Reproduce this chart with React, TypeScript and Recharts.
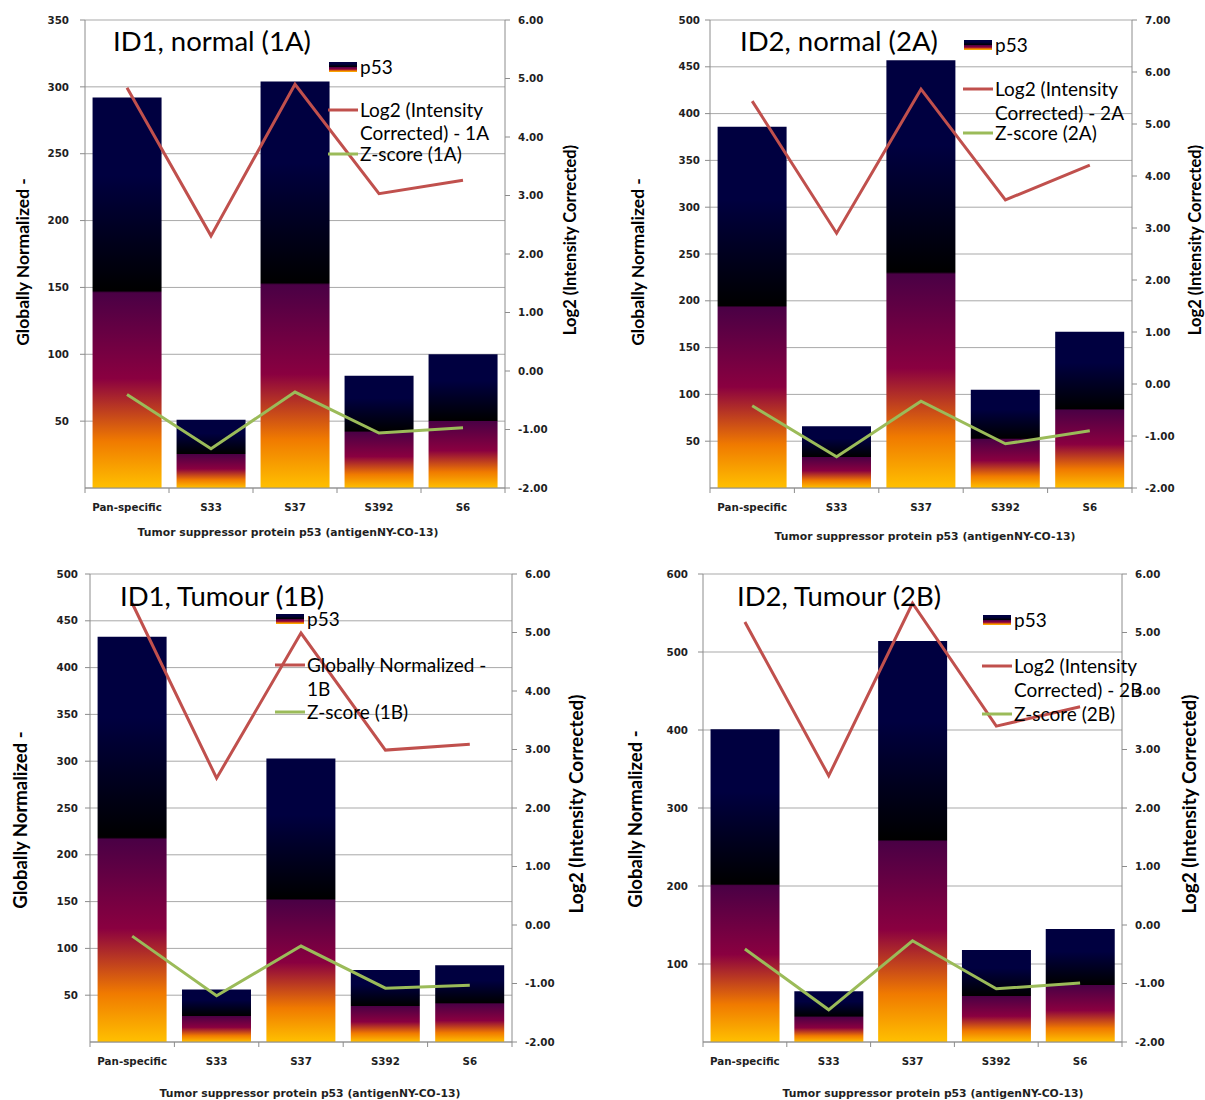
import React from 'react';
import { ComposedChart, Bar, Line, XAxis, YAxis, CartesianGrid, Legend, Label } from 'recharts';

// ---------- data ----------
const categories = ['Pan-specific', 'S33', 'S37', 'S392', 'S6'];

const p53_1A = [292, 51, 304, 84, 100];
const log2_1A = [4.84, 2.31, 4.9, 3.03, 3.26];
const zscore_1A = [-0.4, -1.33, -0.36, -1.06, -0.97];

const p53_2A = [386, 66, 457, 105, 167];
const log2_2A = [5.44, 2.9, 5.67, 3.54, 4.21];
const zscore_2A = [-0.42, -1.4, -0.33, -1.15, -0.9];

const p53_1B = [433, 56, 303, 77, 82];
const log2_1B = [5.5, 2.51, 4.99, 2.99, 3.09];
const zscore_1B = [-0.19, -1.21, -0.36, -1.08, -1.03];

const p53_2B = [401, 65, 514, 118, 145];
const log2_2B = [5.18, 2.55, 5.5, 3.4, 3.73];
const zscore_2B = [-0.41, -1.45, -0.27, -1.09, -0.99];

const leftTicks_1A = [50, 100, 150, 200, 250, 300, 350];
const leftTicks_2A = [50, 100, 150, 200, 250, 300, 350, 400, 450, 500];
const leftTicks_1B = [50, 100, 150, 200, 250, 300, 350, 400, 450, 500];
const leftTicks_2B = [100, 200, 300, 400, 500, 600];
const rightTicks_8 = [-2, -1, 0, 1, 2, 3, 4, 5, 6];
const rightTicks_9 = [-2, -1, 0, 1, 2, 3, 4, 5, 6, 7];

const xTitle = 'Tumor suppressor protein p53 (antigenNY-CO-13)';
const leftTitle = 'Globally Normalized -';
const rightTitle = 'Log2 (Intensity Corrected)';

// ---------- styles ----------
const RED = '#c0504d';
const GREEN = '#9bbb59';
const AXIS = '#8c8c8c';
const GRID = '#a9a9a9';
const tickStyle = { fontFamily: 'DejaVu Sans', fontWeight: 700, fontSize: 10.3, fill: '#1f1f1f' };
const calibri = 'Lato, "Open Sans", sans-serif';
const X_TICK_SIZE = 5;
const X_TICK_MARGIN = 11;

type PanelProps = {
  id: string;
  left: number; top: number; width: number; height: number;
  leftW: number; rightW: number;
  bars: number[]; log2: number[]; z: number[];
  leftMax: number; leftTicks: number[];
  rightMax: number; rightTicks: number[];
  leftTickMargin: number;
  title: string; titleX: number; titleY: number; titleSize: number;
  yTitleSize: number; leftTitleX: number; leftTitleY: number; rightTitleX: number; rightTitleY: number; rightTitleSize: number;
  xTitleX: number; xTitleY: number;
  legendX: number; legendY: number; legendSize: number;
  legRed: number; legRed2: number; legGreen: number;
  redLines: string[]; greenLabel: string;
};

const GradientStops = () => (
  <>
    <stop offset="0" stopColor="#000040" />
    <stop offset="0.2" stopColor="#000040" />
    <stop offset="0.495" stopColor="#000000" />
    <stop offset="0.5" stopColor="#4a0045" />
    <stop offset="0.72" stopColor="#8a0040" />
    <stop offset="0.88" stopColor="#f07a00" />
    <stop offset="1" stopColor="#ffc000" />
  </>
);

// Category tick: label at the band centre, Excel-style tick marks at the band boundaries
const XTick = (props: any) => {
  const { x, y, payload, index, visibleTicksCount } = props;
  const half = payload && payload.offset ? payload.offset : 0;
  const axisY = y - X_TICK_SIZE - X_TICK_MARGIN;
  const isLast = index === (visibleTicksCount ?? categories.length) - 1;
  return (
    <g>
      <line x1={x - half} x2={x - half} y1={axisY} y2={axisY + 5} stroke={AXIS} />
      {isLast && <line x1={x + half} x2={x + half} y1={axisY} y2={axisY + 5} stroke={AXIS} />}
      <text x={x} y={y} dy="0.71em" textAnchor="middle" style={tickStyle}>
        {payload.value}
      </text>
    </g>
  );
};

const Panel = (p: PanelProps) => {
  const rows = categories.map((c, i) => ({ category: c, p53: p.bars[i], log2: p.log2[i], z: p.z[i] }));
  const gid = `grad-${p.id}`;
  const lgid = `lgrad-${p.id}`;
  const lx = p.legendX - p.left;
  const ly = p.legendY - p.top - 10;
  const textStyle: React.CSSProperties = {
    position: 'absolute', left: 32, fontFamily: calibri, fontSize: p.legendSize, color: '#000',
    lineHeight: '20px', height: 20, whiteSpace: 'nowrap',
  };
  const renderLegend = () => (
    <div style={{ position: 'relative', width: 230, height: 110 }}>
      <svg width={30} height={110} style={{ position: 'absolute', left: 0, top: 0 }}>
        <defs>
          <linearGradient id={lgid} x1="0" y1="0" x2="0" y2="1">
            <GradientStops />
          </linearGradient>
        </defs>
        <rect x={1} y={5} width={28} height={10} fill={`url(#${lgid})`} />
        <line x1={0} x2={30} y1={10 + p.legRed} y2={10 + p.legRed} stroke={RED} strokeWidth={3} />
        <line x1={0} x2={30} y1={10 + p.legGreen} y2={10 + p.legGreen} stroke={GREEN} strokeWidth={3} />
      </svg>
      <div style={{ ...textStyle, top: 0 }}>p53</div>
      <div style={{ ...textStyle, top: p.legRed }}>{p.redLines[0]}</div>
      <div style={{ ...textStyle, top: p.legRed2 }}>{p.redLines[1]}</div>
      <div style={{ ...textStyle, top: p.legGreen }}>{p.greenLabel}</div>
    </div>
  );

  const lTx = p.leftTitleX - p.left;
  const lTy = p.leftTitleY - p.top;
  const rTx = p.rightTitleX - p.left;
  const rTy = p.rightTitleY - p.top;

  return (
    <div style={{ position: 'absolute', left: p.left, top: p.top, width: p.width, height: p.height }}>
      <ComposedChart
        width={p.width}
        height={p.height}
        data={rows}
        margin={{ top: 20, right: 0, bottom: 0, left: 0 }}
        barCategoryGap="9%"
      >
        <defs>
          <linearGradient id={gid} x1="0" y1="0" x2="0" y2="1">
            <GradientStops />
          </linearGradient>
        </defs>
        <CartesianGrid yAxisId="left" vertical={false} stroke={GRID} strokeWidth={1} />
        <XAxis
          dataKey="category"
          height={57}
          tickLine={false}
          axisLine={{ stroke: AXIS }}
          tick={<XTick />}
          tickSize={X_TICK_SIZE}
          tickMargin={X_TICK_MARGIN}
          interval={0}
          label={
            <Label
              content={() => (
                <text
                  x={p.xTitleX - p.left}
                  y={p.xTitleY - p.top}
                  textAnchor="middle"
                  dominantBaseline="central"
                  style={{ ...tickStyle, fontSize: 10.8 }}
                >
                  {xTitle}
                </text>
              )}
            />
          }
        />
        <YAxis
          yAxisId="left"
          orientation="left"
          width={p.leftW}
          domain={[0, p.leftMax]}
          ticks={p.leftTicks}
          interval={0}
          tick={tickStyle}
          tickLine={{ stroke: AXIS }}
          axisLine={{ stroke: AXIS }}
          tickSize={5}
          tickMargin={p.leftTickMargin}
          label={
            <Label
              content={() => (
                <text
                  x={lTx}
                  y={lTy}
                  transform={`rotate(-90 ${lTx} ${lTy})`}
                  textAnchor="middle"
                  dominantBaseline="central"
                  style={{ fontFamily: calibri, fontWeight: 700, fontSize: p.yTitleSize, fill: '#000' }}
                >
                  {leftTitle}
                </text>
              )}
            />
          }
        />
        <YAxis
          yAxisId="right"
          orientation="right"
          width={p.rightW}
          domain={[-2, p.rightMax]}
          ticks={p.rightTicks}
          interval={0}
          tick={tickStyle}
          tickFormatter={(v: number) => v.toFixed(2)}
          tickLine={{ stroke: AXIS }}
          axisLine={{ stroke: AXIS }}
          tickSize={5}
          tickMargin={8}
          label={
            <Label
              content={() => (
                <text
                  x={rTx}
                  y={rTy}
                  transform={`rotate(-90 ${rTx} ${rTy})`}
                  textAnchor="middle"
                  dominantBaseline="central"
                  style={{ fontFamily: calibri, fontWeight: 700, fontSize: p.rightTitleSize, fill: '#000' }}
                >
                  {rightTitle}
                </text>
              )}
            />
          }
        />
        <Bar yAxisId="left" dataKey="p53" fill={`url(#${gid})`} isAnimationActive={false} />
        <Line yAxisId="right" type="linear" dataKey="log2" stroke={RED} strokeWidth={3} dot={false} isAnimationActive={false} />
        <Line yAxisId="right" type="linear" dataKey="z" stroke={GREEN} strokeWidth={3} dot={false} isAnimationActive={false} />
        <Legend
          layout="vertical"
          align="center"
          verticalAlign="middle"
          content={renderLegend}
          wrapperStyle={{ left: lx, top: ly, width: 230, height: 110 }}
        />
      </ComposedChart>
      <div
        style={{
          position: 'absolute',
          left: p.titleX - p.left,
          top: p.titleY - p.top - 18,
          fontFamily: calibri,
          fontSize: p.titleSize,
          lineHeight: '36px',
          color: '#000',
          whiteSpace: 'nowrap',
        }}
      >
        {p.title}
      </div>
    </div>
  );
};

export default function App() {
  return (
    <div style={{ position: 'absolute', left: 0, top: 0, width: 1205, height: 1100, background: '#fff' }}>
      <Panel
        id="1A" left={0} top={0} width={600} height={545} leftW={85} rightW={95}
        bars={p53_1A} log2={log2_1A} z={zscore_1A}
        leftMax={350} leftTicks={leftTicks_1A} rightMax={6} rightTicks={rightTicks_8}
        leftTickMargin={11}
        title="ID1, normal (1A)" titleX={113} titleY={41} titleSize={27.5}
        yTitleSize={17.5} leftTitleX={22} leftTitleY={262} rightTitleX={570} rightTitleY={240} rightTitleSize={16.5}
        xTitleX={288} xTitleY={532}
        legendX={328} legendY={67} legendSize={19} legRed={43} legRed2={66} legGreen={87}
        redLines={['Log2 (Intensity', 'Corrected) - 1A']} greenLabel="Z-score (1A)"
      />
      <Panel
        id="2A" left={600} top={0} width={605} height={545} leftW={110} rightW={73}
        bars={p53_2A} log2={log2_2A} z={zscore_2A}
        leftMax={500} leftTicks={leftTicks_2A} rightMax={7} rightTicks={rightTicks_9}
        leftTickMargin={5}
        title="ID2, normal (2A)" titleX={740} titleY={41} titleSize={27.5}
        yTitleSize={17.5} leftTitleX={637} leftTitleY={262} rightTitleX={1195} rightTitleY={240} rightTitleSize={16.5}
        xTitleX={925} xTitleY={536}
        legendX={963} legendY={45} legendSize={19} legRed={44} legRed2={68} legGreen={88}
        redLines={['Log2 (Intensity', 'Corrected) - 2A']} greenLabel="Z-score (2A)"
      />
      <Panel
        id="1B" left={0} top={554} width={600} height={545} leftW={90} rightW={88}
        bars={p53_1B} log2={log2_1B} z={zscore_1B}
        leftMax={500} leftTicks={leftTicks_1B} rightMax={6} rightTicks={rightTicks_8}
        leftTickMargin={7}
        title="ID1, Tumour (1B)" titleX={120} titleY={596} titleSize={27.5}
        yTitleSize={18.5} leftTitleX={20} leftTitleY={820} rightTitleX={575} rightTitleY={804} rightTitleSize={19}
        xTitleX={310} xTitleY={1093}
        legendX={275} legendY={619} legendSize={19} legRed={46} legRed2={70} legGreen={93}
        redLines={['Globally Normalized -', '1B']} greenLabel="Z-score (1B)"
      />
      <Panel
        id="2B" left={600} top={554} width={605} height={545} leftW={103} rightW={83}
        bars={p53_2B} log2={log2_2B} z={zscore_2B}
        leftMax={600} leftTicks={leftTicks_2B} rightMax={6} rightTicks={rightTicks_8}
        leftTickMargin={10}
        title="ID2, Tumour (2B)" titleX={737} titleY={596} titleSize={27.5}
        yTitleSize={18.5} leftTitleX={635} leftTitleY={819} rightTitleX={1188} rightTitleY={804} rightTitleSize={19}
        xTitleX={933} xTitleY={1093}
        legendX={982} legendY={620} legendSize={19} legRed={46} legRed2={70} legGreen={94}
        redLines={['Log2 (Intensity', 'Corrected) - 2B']} greenLabel="Z-score (2B)"
      />
    </div>
  );
}
